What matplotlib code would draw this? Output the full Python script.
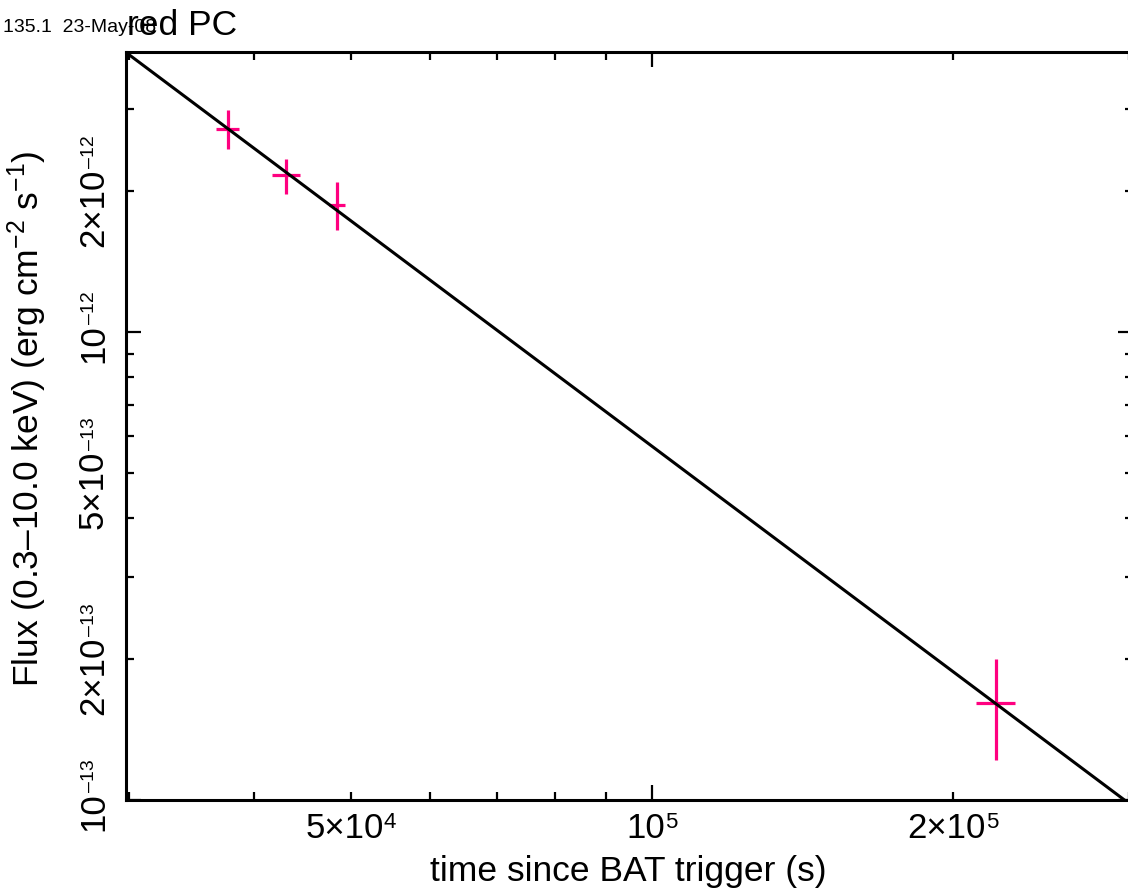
import numpy as np
import matplotlib
matplotlib.use('Agg')
import matplotlib.pyplot as plt
import matplotlib.transforms as mtransforms
from matplotlib.ticker import LogLocator, NullFormatter

# ---- data ----
time_s = [3.77e4, 4.31e4, 4.84e4, 2.212e5]
time_lo = [3.67e4, 4.17e4, 4.76e4, 2.112e5]
time_hi = [3.87e4, 4.45e4, 4.94e4, 2.311e5]
flux = [2.72e-12, 2.166e-12, 1.868e-12, 1.61e-13]
flux_lo = [2.46e-12, 1.97e-12, 1.652e-12, 1.218e-13]
flux_hi = [2.99e-12, 2.35e-12, 2.095e-12, 2.0e-13]

# power-law model: F = norm * (t / 1e5 s)^index
model_norm = 5.71e-13
model_index = -1.6
model_t_range = [2.98e4, 3.03e5]

xlim = [2.98e4, 3.03e5]
ylim = [1e-13, 3.97e-12]

# tick labels: value, base text, exponent text
xtick_values = [5e4, 1e5, 2e5]
xtick_bases = ['5×10', '10', '2×10']
xtick_exps = ['4', '5', '5']
ytick_values = [1e-13, 2e-13, 5e-13, 1e-12, 2e-12]
ytick_bases = ['10', '2×10', '5×10', '10', '2×10']
ytick_exps = ['–13', '–13', '–13', '–12', '–12']

title_small = '135.1  23-May-08'
title_main = 'red PC'
xlabel = 'time since BAT trigger (s)'
ylabel = 'Flux (0.3–10.0 keV) (erg cm$^{-2}$ s$^{-1}$)'

pink = '#ff0080'

# ---- style ----
plt.rcParams['font.family'] = ['Liberation Sans', 'DejaVu Sans']
plt.rcParams['mathtext.fontset'] = 'custom'
plt.rcParams['mathtext.rm'] = 'Liberation Sans'
plt.rcParams['mathtext.it'] = 'Liberation Sans:italic'
plt.rcParams['mathtext.bf'] = 'Liberation Sans:bold'
plt.rcParams['mathtext.default'] = 'rm'

W, H = 1128, 890
fig = plt.figure(figsize=(W / 100, H / 100), dpi=100)
ax = fig.add_axes([126 / W, 90 / H, 1007 / W, 748 / H])
ax.set_xscale('log')
ax.set_yscale('log')

# model line
t_grid = np.geomspace(model_t_range[0], model_t_range[1], 100)
ax.plot(t_grid, model_norm * (t_grid / 1e5) ** model_index, color='black', lw=2.2, zorder=3)

# data with error bars
t = np.array(time_s)
f = np.array(flux)
ax.errorbar(t, f,
            xerr=[t - np.array(time_lo), np.array(time_hi) - t],
            yerr=[f - np.array(flux_lo), np.array(flux_hi) - f],
            fmt='none', ecolor=pink, elinewidth=2.3, capsize=0, zorder=2)

ax.set_xlim(*xlim)
ax.set_ylim(*ylim)

for sp in ax.spines.values():
    sp.set_linewidth(2.2)

# ticks
for axis in (ax.xaxis, ax.yaxis):
    axis.set_major_locator(LogLocator(base=10, subs=(1.0,)))
    axis.set_minor_locator(LogLocator(base=10, subs=np.arange(2, 10)))
    axis.set_major_formatter(NullFormatter())
    axis.set_minor_formatter(NullFormatter())

ax.tick_params(which='both', direction='in', top=True, right=True, width=1.6)
ax.tick_params(which='major', length=11)
ax.tick_params(which='minor', length=5.8)

BASE_FS = 25
XEXP_FS = 16
YEXP_FS = 14
renderer = fig.canvas.get_renderer()


def text_width(s, size):
    tt = fig.text(0, 0, s, fontsize=size)
    w = tt.get_window_extent(renderer).width
    tt.remove()
    return w


def px(dx, dy):
    return mtransforms.ScaledTranslation(dx / 100, dy / 100, fig.dpi_scale_trans)


# x tick labels (base + superscript exponent)
xblend = mtransforms.blended_transform_factory(ax.transData, ax.transAxes)
for v, b, e in zip(xtick_values, xtick_bases, xtick_exps):
    w1 = text_width(b, BASE_FS)
    w2 = text_width(e, XEXP_FS)
    x0 = -(w1 + w2) / 2
    ax.text(v, 0, b, transform=xblend + px(x0, -38), ha='left', va='baseline',
            fontsize=BASE_FS, clip_on=False)
    ax.text(v, 0, e, transform=xblend + px(x0 + w1, -28), ha='left', va='baseline',
            fontsize=XEXP_FS, clip_on=False)

# y tick labels (rotated, base + superscript exponent)
yblend = mtransforms.blended_transform_factory(ax.transAxes, ax.transData)
for v, b, e in zip(ytick_values, ytick_bases, ytick_exps):
    w1 = text_width(b, BASE_FS)
    w2 = text_width(e, YEXP_FS)
    shift = 5 if b == '10' else 0
    y0 = -(w1 + w2) / 2 + shift
    ax.text(0, v, b, transform=yblend + px(-23, y0), rotation=90, rotation_mode='anchor',
            ha='left', va='baseline', fontsize=BASE_FS, clip_on=False)
    ax.text(0, v, e, transform=yblend + px(-32, y0 + w1), rotation=90, rotation_mode='anchor',
            ha='left', va='baseline', fontsize=YEXP_FS, clip_on=False)

# labels and titles
fig.text(628 / W, 1 - 881 / H, xlabel, ha='center', va='baseline', fontsize=25.5)
fig.text(27 / W, 1 - 419 / H, ylabel, ha='center', va='center', rotation=90, fontsize=25.5)
fig.text(3 / W, 1 - 32 / H, title_small, ha='left', va='baseline', fontsize=14)
fig.text(127 / W, 1 - 35 / H, title_main, ha='left', va='baseline', fontsize=25.5)

fig.savefig('out.png', dpi=100)
